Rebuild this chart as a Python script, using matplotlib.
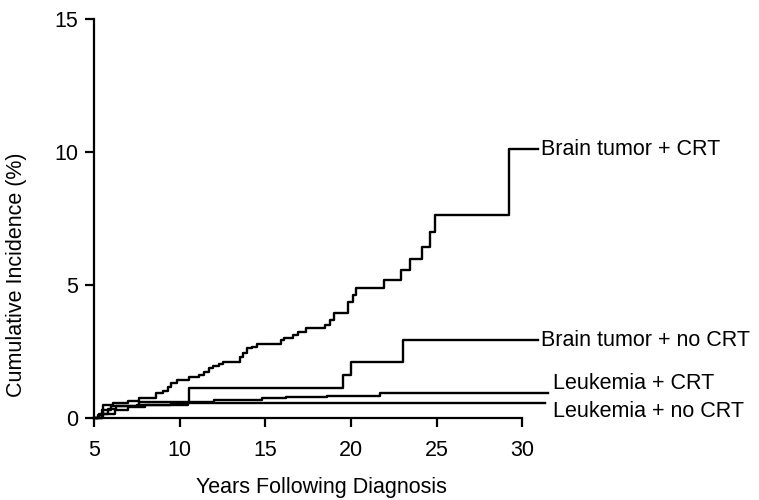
import matplotlib
matplotlib.use('Agg')
import matplotlib.pyplot as plt

plt.rcParams['font.family'] = ['Liberation Sans', 'DejaVu Sans']

# Step curves (years, cumulative incidence %)
bt_crt_x = [5.0, 5.45, 5.5, 6.1, 7.0, 7.6, 8.6, 9.0, 9.3, 9.5, 9.85, 10.55, 11.1, 11.4,
            11.7, 11.95, 12.3, 12.5, 13.5, 13.7, 13.9, 14.2, 14.5, 15.9, 16.1, 16.6, 16.9,
            17.4, 18.5, 18.8, 19.0, 19.8, 20.1, 20.3, 21.9, 22.9, 23.45, 24.15, 24.6, 24.9,
            29.2, 30.9]
bt_crt_y = [0.0, 0.3, 0.5, 0.55, 0.65, 0.75, 0.95, 1.0, 1.15, 1.3, 1.43, 1.55, 1.6, 1.73,
            1.87, 1.95, 2.03, 2.1, 2.3, 2.45, 2.62, 2.68, 2.78, 2.93, 3.0, 3.12, 3.23,
            3.38, 3.5, 3.7, 3.95, 4.36, 4.62, 4.88, 5.19, 5.56, 5.97, 6.43, 7.0, 7.63,
            10.1, 10.1]

bt_nocrt_x = [5.0, 5.3, 5.8, 6.3, 7.6, 10.55, 19.55, 20.0, 23.05, 30.9]
bt_nocrt_y = [0.0, 0.15, 0.35, 0.45, 0.6, 1.13, 1.6, 2.1, 2.93, 2.93]

leuk_crt_x = [5.0, 5.5, 6.2, 7.0, 8.0, 9.5, 10.5, 12.0, 14.8, 16.2, 18.6, 21.7, 31.5]
leuk_crt_y = [0.0, 0.15, 0.3, 0.4, 0.5, 0.55, 0.6, 0.68, 0.75, 0.8, 0.83, 0.93, 0.93]

leuk_nocrt_x = [5.0, 5.2, 5.5, 6.0, 7.5, 10.5, 31.3]
leuk_nocrt_y = [0.0, 0.1, 0.3, 0.45, 0.5, 0.55, 0.55]

labels = ['Brain tumor + CRT', 'Brain tumor + no CRT', 'Leukemia + CRT', 'Leukemia + no CRT']
x_ticks = [5, 10, 15, 20, 25, 30]
y_ticks = [0, 5, 10, 15]

fig = plt.figure(figsize=(7.59, 5.0), dpi=100)
ax = fig.add_axes([0.124, 0.164, 0.598, 0.798])

for xs, ys in [(bt_crt_x, bt_crt_y), (bt_nocrt_x, bt_nocrt_y),
               (leuk_crt_x, leuk_crt_y), (leuk_nocrt_x, leuk_nocrt_y)]:
    ax.plot(xs, ys, drawstyle='steps-post', color='black', lw=1.7, clip_on=False)

# Curve labels at the right end of each line
ax.text(31.1, bt_crt_y[-1], labels[0], fontsize=15.5, va='center', clip_on=False)
ax.text(31.1, bt_nocrt_y[-1], labels[1], fontsize=15.5, va='center', clip_on=False)
ax.text(31.8, 1.28, labels[2], fontsize=15.5, va='center', clip_on=False)
ax.text(31.8, 0.26, labels[3], fontsize=15.5, va='center', clip_on=False)

ax.set_xlim(5, 31.5)
ax.set_ylim(0, 15)
ax.set_xticks(x_ticks)
ax.set_yticks(y_ticks)
ax.spines['top'].set_visible(False)
ax.spines['right'].set_visible(False)
ax.spines['bottom'].set_bounds(5, 30)
ax.spines['left'].set_linewidth(1.6)
ax.spines['bottom'].set_linewidth(1.6)
ax.tick_params(direction='out', length=6.5, width=1.6, labelsize=15.5)
ax.tick_params(axis='x', pad=9)
ax.tick_params(axis='y', pad=5)

ax.set_xlabel('Years Following Diagnosis', fontsize=15.5)
ax.set_ylabel('Cumulative Incidence (%)', fontsize=15.5)
ax.xaxis.set_label_coords(0.5, -0.148)
ax.yaxis.set_label_coords(-0.148, 0.358)

plt.savefig('out.png', dpi=100)
